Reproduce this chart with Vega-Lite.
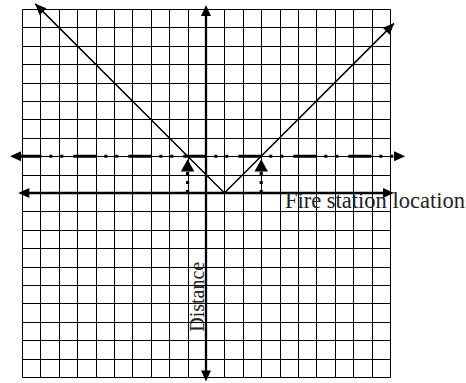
{
  "$schema": "https://vega.github.io/schema/vega-lite/v6.json",
  "width": 368,
  "height": 368,
  "autosize": {"type": "none"},
  "padding": {"left": 22, "top": 9, "right": 76, "bottom": 6},
  "background": "white",
  "config": {
    "view": {"stroke": null},
    "axis": {"grid": true, "gridColor": "#000", "gridWidth": 1, "gridOpacity": 1, "domain": false, "ticks": false, "labels": false, "titleOpacity": 0}
  },
  "datasets": {
    "segments": [
      {"part": "axis", "x": -9.9, "y": 0, "x2": 9.9, "y2": 0},
      {"part": "axis", "x": 0, "y": -9.9, "x2": 0, "y2": 9.9},
      {"part": "level", "x": -10.2, "y": 2, "x2": 10.22, "y2": 2},
      {"part": "drop", "x": -1, "y": 0, "x2": -1, "y2": 1.3},
      {"part": "drop", "x": 3, "y": 0, "x2": 3, "y2": 1.3}
    ],
    "vline": [
      {"x": -9.28, "y": 10.28},
      {"x": 1, "y": 0},
      {"x": 10.22, "y": 9.22}
    ],
    "heads": [
      {"dir": "left", "x": -10.2, "y": 0},
      {"dir": "right", "x": 10.22, "y": 0},
      {"dir": "up", "x": 0, "y": 10.22},
      {"dir": "down", "x": 0, "y": -10.25},
      {"dir": "left", "x": -10.65, "y": 2},
      {"dir": "right", "x": 10.82, "y": 2},
      {"dir": "upleft", "x": -9.28, "y": 10.28},
      {"dir": "upright", "x": 10.22, "y": 9.22},
      {"dir": "dropup", "x": -1, "y": 1.83},
      {"dir": "dropup", "x": 3, "y": 1.83}
    ],
    "labels": [
      {"kind": "h", "label": "Fire station location", "x": 4.29, "y": -0.8},
      {"kind": "v", "label": "Distance", "x": -0.12, "y": -5.64}
    ]
  },
  "encoding": {
    "x": {
      "field": "x", "type": "quantitative",
      "scale": {"domain": [-10, 10], "nice": false, "zero": false},
      "axis": {"values": [-10,-9,-8,-7,-6,-5,-4,-3,-2,-1,0,1,2,3,4,5,6,7,8,9,10], "title": null}
    },
    "y": {
      "field": "y", "type": "quantitative",
      "scale": {"domain": [-10, 10], "nice": false, "zero": false},
      "axis": {"values": [-10,-9,-8,-7,-6,-5,-4,-3,-2,-1,0,1,2,3,4,5,6,7,8,9,10], "title": null}
    }
  },
  "layer": [
    {
      "data": {"name": "segments"},
      "transform": [{"filter": "datum.part === 'axis'"}],
      "mark": {"type": "rule", "color": "#000", "strokeWidth": 2.3},
      "encoding": {"x2": {"field": "x2"}, "y2": {"field": "y2"}}
    },
    {
      "data": {"name": "segments"},
      "transform": [{"filter": "datum.part === 'level'"}],
      "mark": {"type": "rule", "color": "#000", "strokeWidth": 3, "strokeDash": [23, 8, 3, 8, 3, 10]},
      "encoding": {"x2": {"field": "x2"}, "y2": {"field": "y2"}}
    },
    {
      "data": {"name": "segments"},
      "transform": [{"filter": "datum.part === 'drop'"}],
      "mark": {"type": "rule", "color": "#000", "strokeWidth": 3.2, "strokeDash": [3, 6]},
      "encoding": {"x2": {"field": "x2"}, "y2": {"field": "y2"}}
    },
    {
      "data": {"name": "vline"},
      "mark": {"type": "line", "color": "#000", "strokeWidth": 1.5},
      "encoding": {}
    },
    {
      "data": {"name": "heads"},
      "transform": [{"filter": "datum.dir === 'left'"}],
      "mark": {"type": "point", "shape": "M0,0L-0.9,2L0.9,2Z", "size": 121, "filled": true, "color": "#000", "opacity": 1, "strokeWidth": 0, "angle": 270}
    },
    {
      "data": {"name": "heads"},
      "transform": [{"filter": "datum.dir === 'right'"}],
      "mark": {"type": "point", "shape": "M0,0L-0.9,2L0.9,2Z", "size": 121, "filled": true, "color": "#000", "opacity": 1, "strokeWidth": 0, "angle": 90}
    },
    {
      "data": {"name": "heads"},
      "transform": [{"filter": "datum.dir === 'up'"}],
      "mark": {"type": "point", "shape": "M0,0L-0.9,2L0.9,2Z", "size": 121, "filled": true, "color": "#000", "opacity": 1, "strokeWidth": 0, "angle": 0}
    },
    {
      "data": {"name": "heads"},
      "transform": [{"filter": "datum.dir === 'down'"}],
      "mark": {"type": "point", "shape": "M0,0L-0.9,2L0.9,2Z", "size": 121, "filled": true, "color": "#000", "opacity": 1, "strokeWidth": 0, "angle": 180}
    },
    {
      "data": {"name": "heads"},
      "transform": [{"filter": "datum.dir === 'upleft'"}],
      "mark": {"type": "point", "shape": "M0,0L-0.9,2L0.9,2Z", "size": 121, "filled": true, "color": "#000", "opacity": 1, "strokeWidth": 0, "angle": 315}
    },
    {
      "data": {"name": "heads"},
      "transform": [{"filter": "datum.dir === 'upright'"}],
      "mark": {"type": "point", "shape": "M0,0L-0.9,2L0.9,2Z", "size": 121, "filled": true, "color": "#000", "opacity": 1, "strokeWidth": 0, "angle": 45}
    },
    {
      "data": {"name": "heads"},
      "transform": [{"filter": "datum.dir === 'dropup'"}],
      "mark": {"type": "point", "shape": "M0,0L-1.1,2L1.1,2Z", "size": 150, "filled": true, "color": "#000", "opacity": 1, "strokeWidth": 0, "angle": 0}
    },
    {
      "data": {"name": "labels"},
      "transform": [{"filter": "datum.kind === 'h'"}],
      "mark": {"type": "text", "font": "Liberation Serif", "fontSize": 22.5, "align": "left", "baseline": "alphabetic", "color": "#222"},
      "encoding": {"text": {"field": "label"}}
    },
    {
      "data": {"name": "labels"},
      "transform": [{"filter": "datum.kind === 'v'"}],
      "mark": {"type": "text", "font": "Liberation Serif", "fontSize": 20, "align": "center", "baseline": "alphabetic", "angle": 270, "color": "#222"},
      "encoding": {"text": {"field": "label"}}
    }
  ]
}
